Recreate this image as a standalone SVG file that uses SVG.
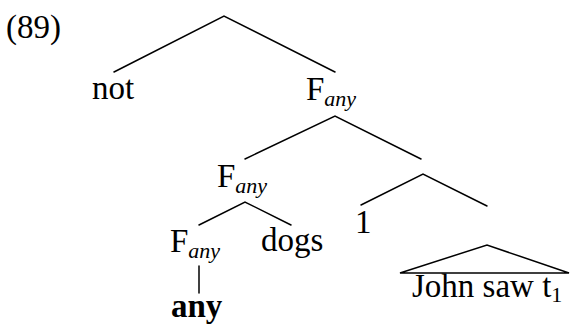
<svg xmlns="http://www.w3.org/2000/svg" width="570" height="325" viewBox="0 0 570 325" font-family="'Liberation Serif', 'DejaVu Serif', serif">
  <style>
    text { font-family: "Liberation Serif", "DejaVu Serif", serif; font-size: 33px; fill: #000; }
    .sub { font-style: italic; font-size: 22px; }
    .b { font-weight: bold; }
    .e { stroke: #000; stroke-width: 1.5; fill: none; stroke-linecap: round; }
  </style>
  <rect width="570" height="325" fill="#fff"/>
  <text x="6" y="38">(89)</text>

  <g id="edges">
    <path class="e" d="M114 72 L224 16 L335 72"/>
    <path class="e" d="M245 159 L335 116 L421 159"/>
    <path class="e" d="M199 225 L245 202 L291 225"/>
    <path class="e" d="M361 205 L423 174 L487 206"/>
    <path class="e" d="M199 266 L199 293"/>
    <path class="e" d="M400 273 L487 245 L569 273 Z"/>
  </g>

  <g id="not"><text x="92" y="99">not</text></g>
  <g id="fany1"><text x="306" y="100">F<tspan class="sub" dy="6">any</tspan></text></g>
  <g id="fany2"><text x="217" y="187">F<tspan class="sub" dy="6">any</tspan></text></g>
  <g id="fany3"><text x="170" y="252">F<tspan class="sub" dy="6">any</tspan></text></g>
  <g id="dogs"><text x="261" y="251">dogs</text></g>
  <g id="any"><text class="b" x="171" y="317">any</text></g>
  <g id="one"><text x="355" y="233">1</text></g>
  <g id="john"><text x="412" y="297">John saw t<tspan font-size="22" dy="5">1</tspan></text></g>
</svg>
